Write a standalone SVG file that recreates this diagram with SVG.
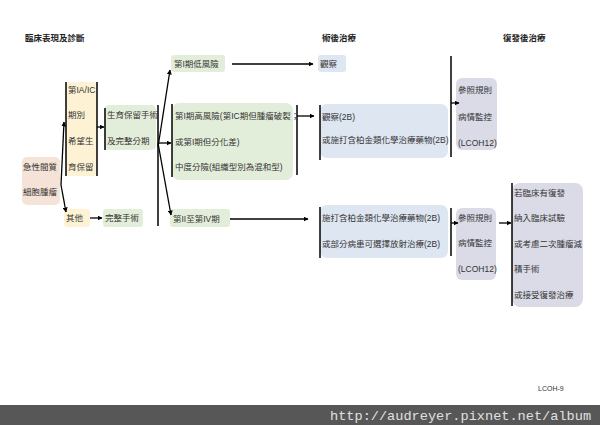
<svg xmlns="http://www.w3.org/2000/svg" width="600" height="425" viewBox="0 0 600 425">
<defs>
<marker id="ah" viewBox="0 0 10 10" refX="9" refY="5" markerWidth="5" markerHeight="5" orient="auto" markerUnits="userSpaceOnUse"><path d="M0,0 L10,5 L0,10 z" fill="#000"/></marker>
<style>
text{font-family:"Liberation Sans","Noto Sans CJK TC",sans-serif;font-size:8.5px;fill:#333}
.h{font-weight:bold;fill:#222}
.pink{fill:#f6e3d7}
.yel{fill:#fdf2d3}
.grn{fill:#e3eeda}
.blu{fill:#dee6f2}
.gry{fill:#dadbe7}
.br{stroke:#000;stroke-width:1.5;fill:none}
.ar{stroke:#000;stroke-width:1.3;fill:none;marker-end:url(#ah)}
</style>
</defs>
<rect width="600" height="425" fill="#fff"/>
<g id="headings">
<text class="h" x="25" y="41">臨床表現及診斷</text>
<text class="h" x="322" y="41">術後治療</text>
<text class="h" x="503" y="41">復發後治療</text>
</g>
<g id="n-gist">
<rect class="pink" x="22" y="157" width="38" height="48" rx="5"/>
<text x="23" y="170">急性間質</text>
<text x="23" y="195">細胞腫瘤</text>
</g>
<g id="n-stage1a">
<rect class="yel" x="66" y="82" width="31" height="94" rx="4"/>
<text x="68" y="93">第IA/IC</text>
<text x="68" y="118">期別</text>
<text x="68" y="144">希望生</text>
<text x="68" y="170">育保留</text>
</g>
<g id="n-other">
<rect class="yel" x="64" y="209" width="26" height="18" rx="3"/>
<text x="66" y="221">其他</text>
</g>
<g id="n-fertility">
<rect class="grn" x="104" y="105" width="52" height="45" rx="5"/>
<text x="107" y="118">生育保留手術</text>
<text x="107" y="144">及完整分期</text>
</g>
<g id="n-complete">
<rect class="grn" x="103" y="209" width="40" height="18" rx="3"/>
<text x="105" y="221">完整手術</text>
</g>
<g id="n-lowrisk">
<rect class="grn" x="171" y="55" width="54" height="17" rx="3"/>
<text x="174" y="67">第I期低風險</text>
</g>
<g id="n-highrisk">
<rect class="grn" x="172" y="103" width="121" height="77" rx="7"/>
<text x="175" y="119">第I期高風險(第IC期但腫瘤破裂；</text>
<text x="175" y="145">或第I期但分化差)</text>
<text x="175" y="170">中度分險(組織型別為混和型)</text>
</g>
<g id="n-stage2">
<rect class="grn" x="170" y="209" width="60" height="18" rx="3"/>
<text x="173" y="222">第II至第IV期</text>
</g>
<g id="n-observe">
<rect class="blu" x="318" y="55" width="28" height="17" rx="3"/>
<text x="320" y="67">觀察</text>
</g>
<g id="n-observe2b">
<rect class="blu" x="320" y="104" width="128" height="54" rx="7"/>
<text x="322" y="120">觀察(2B)</text>
<text x="322" y="143">或施打含柏金類化學治療藥物(2B)</text>
</g>
<g id="n-chemo">
<rect class="blu" x="320" y="205" width="128" height="53" rx="7"/>
<text x="322" y="221">施打含柏金類化學治療藥物(2B)</text>
<text x="322" y="247">或部分病患可選擇放射治療(2B)</text>
</g>
<g id="n-follow1">
<rect class="gry" x="456" y="78" width="41" height="72" rx="6"/>
<text x="458" y="93">參照規則</text>
<text x="458" y="120">病情監控</text>
<text x="458" y="146">(LCOH12)</text>
</g>
<g id="n-follow2">
<rect class="gry" x="456" y="208" width="40" height="72" rx="6"/>
<text x="458" y="221">參照規則</text>
<text x="458" y="246">病情監控</text>
<text x="458" y="272">(LCOH12)</text>
</g>
<g id="n-recur">
<rect class="gry" x="512" y="183" width="71" height="124" rx="8"/>
<text x="514" y="196">若臨床有復發</text>
<text x="514" y="221">納入臨床試驗</text>
<text x="514" y="247">或考慮二次腫瘤減</text>
<text x="514" y="272">積手術</text>
<text x="514" y="298">或接受復發治療</text>
</g>
<g id="connectors">
<line class="br" x1="66" y1="82" x2="66" y2="176"/>
<line class="br" x1="97" y1="82" x2="97" y2="176"/>
<line class="br" x1="105" y1="108" x2="105" y2="150"/>
<line class="br" x1="158" y1="105" x2="158" y2="226"/>
<line class="br" x1="172" y1="104" x2="172" y2="177"/>
<line class="br" x1="297" y1="105" x2="297" y2="175"/>
<line class="br" x1="320" y1="105" x2="320" y2="160"/>
<line class="br" x1="451" y1="56" x2="451" y2="157"/>
<line class="br" x1="320" y1="207" x2="320" y2="258"/>
<line class="br" x1="451" y1="208" x2="451" y2="256"/>
<line class="br" x1="512" y1="183" x2="512" y2="306"/>
<path class="ar" d="M61,185 L64,122"/>
<path class="ar" d="M61,185 L66,212"/>
<path class="ar" d="M97,127 L104,127"/>
<path class="ar" d="M90,218 L102,218"/>
<path class="ar" d="M158,147 L170,70"/>
<path class="ar" d="M158,143 L171,143"/>
<path class="ar" d="M158,143 L171,215"/>
<path class="ar" d="M232,64 L313,64"/>
<path class="ar" d="M297,116 L314,116"/>
<path class="ar" d="M230,219 L308,219"/>
<path class="ar" d="M451,103 L459,103"/>
<path class="ar" d="M451,223 L458,223"/>
<path class="ar" d="M499,223 L511,223"/>
</g>
<text x="538" y="391" style="font-size:7px">LCOH-9</text>
<rect x="0" y="405" width="600" height="20" fill="#575757"/>
<text x="330" y="420" style="font-family:'Liberation Mono',monospace;font-size:13.6px;fill:#e0e0e0">http://audreyer.pixnet.net/album</text>
</svg>
